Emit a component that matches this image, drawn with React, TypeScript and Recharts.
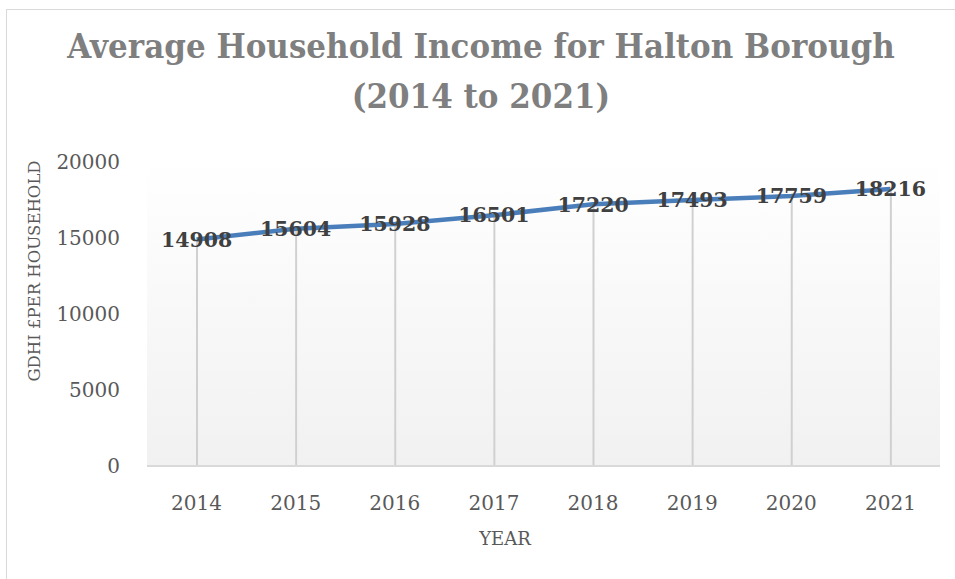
import React from "react";
import {
  ComposedChart,
  Line,
  Bar,
  XAxis,
  YAxis,
  CartesianGrid,
  LabelList,
} from "recharts";

const years = ["2014", "2015", "2016", "2017", "2018", "2019", "2020", "2021"];
const income = [14908, 15604, 15928, 16501, 17220, 17493, 17759, 18216];
const yTicks = [0, 5000, 10000, 15000, 20000];

const data = years.map((year, i) => ({ year, income: income[i] }));

const FONT = "'DejaVu Serif', serif";
const TEXT = "#595959";

export default function App() {
  return (
    <div
      style={{
        position: "absolute",
        left: 0,
        top: 0,
        width: 955,
        height: 579,
        overflow: "hidden",
        background: "#fff",
        fontFamily: FONT,
      }}
    >
      {/* chart frame, only top/left edges show in the crop */}
      <div
        style={{
          position: "absolute",
          left: 6,
          top: 9,
          width: 1000,
          height: 700,
          border: "1.5px solid #d9d9d9",
        }}
      />
      <div
        style={{
          position: "absolute",
          left: 0,
          top: 25,
          width: 962,
          textAlign: "center",
          color: "#7f7f7f",
          fontWeight: "bold",
          fontSize: 31,
          lineHeight: "46px",
          transform: "scaleY(1.08)",
        }}
      >
        Average Household Income for Halton Borough
        <br />
        (2014 to 2021)
      </div>
      <div
        style={{
          position: "absolute",
          left: 34,
          top: 271,
          transform: "translate(-50%, -50%) rotate(-90deg)",
          whiteSpace: "nowrap",
          color: TEXT,
          fontSize: 16.5,
        }}
      >
        GDHI £PER HOUSEHOLD
      </div>
      <div
        style={{
          position: "absolute",
          left: 505,
          top: 538,
          transform: "translate(-50%, -50%)",
          color: TEXT,
          fontSize: 18,
        }}
      >
        YEAR
      </div>
      <ComposedChart
        width={955}
        height={579}
        data={data}
        margin={{ top: 162, right: 15, bottom: 0, left: 0 }}
        style={{ position: "absolute", left: 0, top: 0 }}
      >
        <defs>
          <linearGradient id="plotBg" x1="0" y1="0" x2="0" y2="1">
            <stop offset="0%" stopColor="#ffffff" />
            <stop offset="100%" stopColor="#f1f1f1" />
          </linearGradient>
        </defs>
        <CartesianGrid
          horizontal={false}
          vertical={false}
          fill="url(#plotBg)"
          stroke="none"
        />
        <XAxis
          dataKey="year"
          height={113}
          tickLine={false}
          tickSize={0}
          tickMargin={30}
          axisLine={{ stroke: "#d9d9d9", strokeWidth: 2 }}
          tick={{ fill: TEXT, fontSize: 20, fontFamily: FONT }}
        />
        <YAxis
          width={147}
          domain={[0, 20000]}
          ticks={yTicks}
          axisLine={false}
          tickLine={false}
          tickSize={0}
          tickMargin={27}
          tick={{ fill: TEXT, fontSize: 20, fontFamily: FONT }}
        />
        <Bar
          dataKey="income"
          barSize={2}
          fill="#d0d0d0"
          isAnimationActive={false}
        />
        <Line
          dataKey="income"
          stroke="#4a7ebb"
          strokeWidth={4.5}
          dot={false}
          activeDot={false}
          isAnimationActive={false}
        >
          <LabelList
            dataKey="income"
            position="center"
            fill="#404040"
            fontSize={20.5}
            fontWeight="bold"
            fontFamily={FONT}
          />
        </Line>
      </ComposedChart>
    </div>
  );
}
